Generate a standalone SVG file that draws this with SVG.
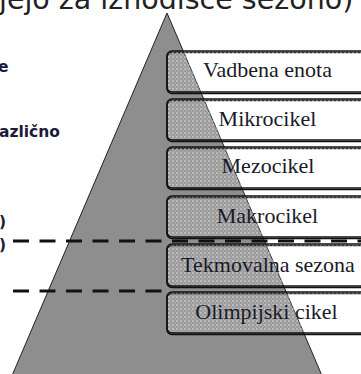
<svg xmlns="http://www.w3.org/2000/svg" width="361" height="374" viewBox="0 0 361 374">
<defs>
<pattern id="dots" width="4" height="4" patternUnits="userSpaceOnUse">
<rect width="4" height="4" fill="#ffffff" fill-opacity="0.12"/>
<circle cx="1" cy="1" r="0.7" fill="#ffffff" fill-opacity="0.85"/>
<circle cx="3" cy="3" r="0.5" fill="#ffffff" fill-opacity="0.5"/>
</pattern>
<style>
.box{fill:url(#dots);stroke:#111;stroke-width:1.6}
.shadow{fill:none;stroke:#111;stroke-width:1.6}
.lbl{font-family:"Liberation Serif","Times New Roman",serif;font-size:22px;fill:#1a1a28;text-anchor:middle}
.side{font-family:"DejaVu Sans",Verdana,sans-serif;font-size:15.5px;font-weight:bold;fill:#1c1c3a}
.dash{stroke:#111;stroke-width:3;stroke-dasharray:16 10.5;fill:none}
</style>
</defs>
<rect width="361" height="374" fill="#ffffff"/>
<text x="-1" y="9" font-family="DejaVu Sans, Verdana, sans-serif" font-size="28.5" fill="#222">jejo za izhodišče sezono)</text>
<g id="side-text">
<text class="side" x="-2" y="72">e</text>
<text class="side" x="-1" y="137">azlično</text>
<text class="side" x="-1" y="227">)</text>
<text class="side" x="-1" y="250">)</text>
</g>
<g id="pyramid">
<polygon points="167,13 326,385 8,385" fill="#8e8e8e" stroke="#222" stroke-width="1"/>
</g>
<g id="box-vadbena">
<rect class="shadow" x="167" y="52.5" width="201" height="41" rx="5"/>
<rect class="box" x="167" y="51" width="201" height="41" rx="5"/>
<text class="lbl" x="267.5" y="77">Vadbena enota</text>
</g>
<g id="box-mikro">
<rect class="shadow" x="167" y="100.5" width="201" height="41" rx="5"/>
<rect class="box" x="167" y="99" width="201" height="41" rx="5"/>
<text class="lbl" x="267.5" y="126">Mikrocikel</text>
</g>
<g id="box-mezo">
<rect class="shadow" x="167" y="148.5" width="201" height="41" rx="5"/>
<rect class="box" x="167" y="147" width="201" height="41" rx="5"/>
<text class="lbl" x="268" y="173">Mezocikel</text>
</g>
<g id="box-makro">
<rect class="shadow" x="167" y="197.5" width="201" height="41" rx="5"/>
<rect class="box" x="167" y="196" width="201" height="41" rx="5"/>
<text class="lbl" x="267.5" y="223">Makrocikel</text>
</g>
<g id="box-tekm">
<rect class="shadow" x="167" y="245.5" width="201" height="42" rx="5"/>
<rect class="box" x="167" y="244" width="201" height="42" rx="5"/>
<text class="lbl" x="268" y="272">Tekmovalna sezona</text>
</g>
<g id="box-olimp">
<rect class="shadow" x="167" y="293.5" width="201" height="41" rx="5"/>
<rect class="box" x="167" y="292" width="201" height="41" rx="5"/>
<text class="lbl" x="266.5" y="319">Olimpijski cikel</text>
</g>
<g id="connectors">
<line class="dash" x1="13" y1="241" x2="361" y2="241"/>
<line class="dash" x1="13" y1="291" x2="166" y2="291"/>
</g>
</svg>
